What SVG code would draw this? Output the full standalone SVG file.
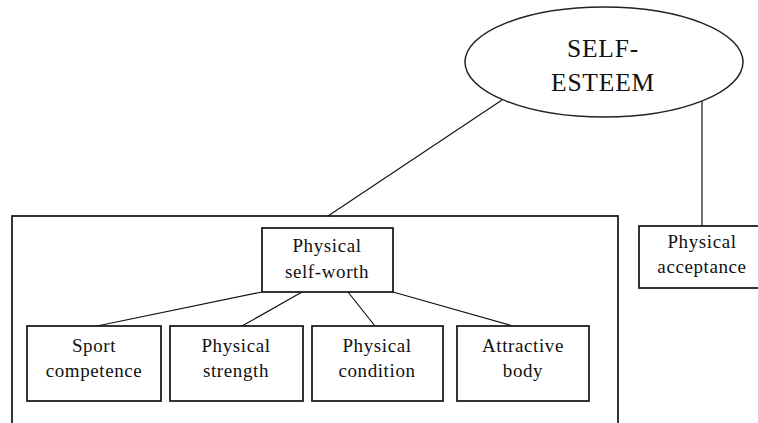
<svg xmlns="http://www.w3.org/2000/svg" width="758" height="423" viewBox="0 0 758 423">
<style>
.box{fill:#fff;stroke:#111;stroke-width:1.7}
.ln{stroke:#111;stroke-width:1.2;fill:none}
.t{font-family:"Liberation Serif","Times New Roman",serif;font-size:19px;letter-spacing:0.6px;fill:#111;text-anchor:middle}
.big{font-size:25.5px;letter-spacing:0.8px}
</style>
<rect width="758" height="423" fill="#fff"/>
<g id="frame"><rect class="box" x="12" y="216" width="606" height="220"/></g>
<g id="connectors">
<line class="ln" x1="502" y1="100" x2="328" y2="216"/>
<line class="ln" x1="702" y1="101" x2="702" y2="226"/>
<line class="ln" x1="262" y1="292" x2="97" y2="326"/>
<line class="ln" x1="302" y1="292" x2="242" y2="326"/>
<line class="ln" x1="348" y1="292" x2="375" y2="326"/>
<line class="ln" x1="393" y1="292" x2="513" y2="326"/>
</g>
<g id="self-esteem">
<ellipse cx="604" cy="62" rx="139" ry="55" fill="#fff" stroke="#222" stroke-width="1.5"/>
<text class="t big" x="603" y="57">SELF-</text>
<text class="t big" x="603" y="91">ESTEEM</text>
</g>
<g id="physical-self-worth">
<rect class="box" x="262" y="228" width="131" height="64"/>
<text class="t" x="327" y="252">Physical</text>
<text class="t" x="327" y="278">self-worth</text>
</g>
<g id="physical-acceptance">
<rect class="box" x="639" y="226" width="126" height="62"/>
<text class="t" x="702" y="248">Physical</text>
<text class="t" x="702" y="273">acceptance</text>
</g>
<g id="sport-competence">
<rect class="box" x="27" y="326" width="134" height="75"/>
<text class="t" x="94" y="352">Sport</text>
<text class="t" x="94" y="377">competence</text>
</g>
<g id="physical-strength">
<rect class="box" x="170" y="326" width="133" height="75"/>
<text class="t" x="236" y="352">Physical</text>
<text class="t" x="236" y="377">strength</text>
</g>
<g id="physical-condition">
<rect class="box" x="312" y="326" width="131" height="75"/>
<text class="t" x="377" y="352">Physical</text>
<text class="t" x="377" y="377">condition</text>
</g>
<g id="attractive-body">
<rect class="box" x="457" y="326" width="132" height="75"/>
<text class="t" x="523" y="352">Attractive</text>
<text class="t" x="523" y="377">body</text>
</g>
</svg>
